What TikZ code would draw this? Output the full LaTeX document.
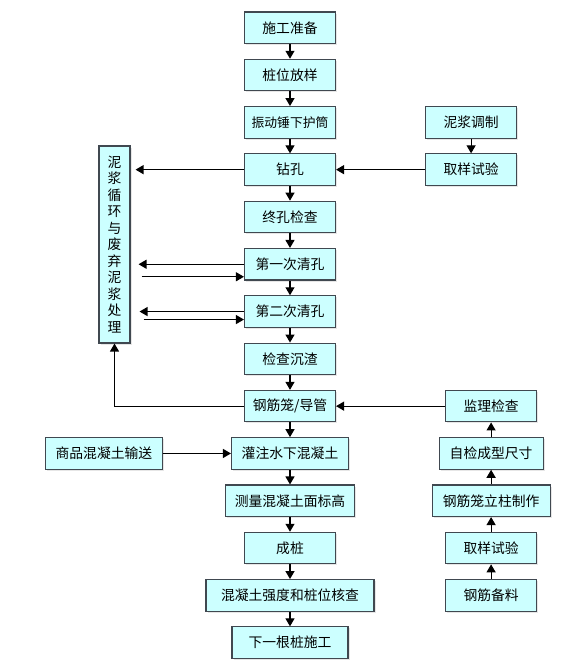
\documentclass[tikz,border=0pt]{standalone}
\usepackage{fontspec}
\newfontfamily\cjk{Noto Sans CJK SC}
\usepackage{tikz}
\usetikzlibrary{arrows.meta, positioning, shadows}
\tikzset{>/.tip={Triangle[length=8pt,width=9pt]}}
\definecolor{boxfill}{RGB}{204,255,255}
\definecolor{boxline}{RGB}{64,72,80}

\begin{document}
\begin{tikzpicture}[x=1pt, y=-1pt, node distance=14.7pt,
  stepbox/.style={draw=boxline, line width=1.1pt, fill=boxfill, minimum width=91pt,
    minimum height=31.5pt, inner sep=0pt, font=\cjk\fontsize{13.8}{16}\selectfont,
    drop shadow={shadow xshift=1.5pt, shadow yshift=-1.5pt, opacity=0.2}},
  flow/.style={->, line width=1.2pt, black}]
  \useasboundingbox (0,0) rectangle (586,670);
  \node(sg) [stepbox] at (290,27.75) {施工准备};
  \node(zw) [stepbox, below=of sg] {桩位放样};
  \node(hz) [stepbox, below=of zw, font=\cjk\fontsize{12.8}{15}\selectfont] {振动锤下护筒};
  \node(zk) [stepbox, below=of hz] {钻孔};
  \node(zkjc) [stepbox, below=of zk] {终孔检查};
  \node(qk1) [stepbox, below=of zkjc] {第一次清孔};
  \node(qk2) [stepbox, below=of qk1] {第二次清孔};
  \node(czjc) [stepbox, below=of qk2] {检查沉渣};
  \node(gjl) [stepbox, below=of czjc] {钢筋笼/导管};
  \node(gz) [stepbox, below=of gjl, minimum width=117pt] {灌注水下混凝土};
  \node(clbg) [stepbox, below=of gz, minimum width=129pt] {测量混凝土面标高};
  \node(cz) [stepbox, below=of clbg] {成桩};
  \node(hc) [stepbox, below=of cz, minimum width=168pt] {混凝土强度和桩位核查};
  \node(xyg) [stepbox, below=of hc, minimum width=116pt] {下一根桩施工};
  \node(qy1) [stepbox, right=89pt of zk] {取样试验};
  \node(njtz) [stepbox, above=of qy1] {泥浆调制};
  \node(nj) [stepbox, minimum width=31pt, minimum height=197pt, align=center,
    font=\cjk\fontsize{13.8}{16.5}\selectfont] at (114.5,244.5)
    {泥\\浆\\循\\环\\与\\废\\弃\\泥\\浆\\处\\理};
  \node(jl) [stepbox, right=109pt of gjl] {监理检查};
  \node(zjcc) [stepbox, below=of jl, minimum width=104pt] {自检成型尺寸};
  \node(lzzz) [stepbox, below=of zjcc, minimum width=118pt] {钢筋笼立柱制作};
  \node(qy2) [stepbox, below=of lzzz] {取样试验};
  \node(gjbl) [stepbox, below=of qy2] {钢筋备料};
  \node(sp) [stepbox, left=68pt of gz, minimum width=117pt] {商品混凝土输送};
  \draw[flow]
   (sg) edge (zw) (zw) edge (hz) (hz) edge (zk) (zk) edge (zkjc)
   (zkjc) edge (qk1) (qk1) edge (qk2) (qk2) edge (czjc) (czjc) edge (gjl)
   (gjl) edge (gz) (gz) edge (clbg) (clbg) edge (cz) (cz) edge (hc) (hc) edge (xyg)
   (njtz) edge (qy1) (qy1) edge (zk) (jl) edge (gjl) (sp) edge (gz)
   (gjbl) edge (qy2) (qy2) edge (lzzz) (lzzz) edge (zjcc) (zjcc) edge (jl);
  \draw[flow] (zk) -- ([xshift=5pt]zk.west -| nj.east);
  \draw[flow] (qk1.west) -- ([xshift=8pt]qk1.west -| nj.east);
  \draw[flow] ([xshift=11pt,yshift=-12.5pt]qk1.west -| nj.east) -- ([yshift=-12.5pt]qk1.west);
  \draw[flow] (qk2.west) -- ([xshift=9pt]qk2.west -| nj.east);
  \draw[flow] ([xshift=13pt,yshift=-8pt]qk2.west -| nj.east) -- ([yshift=-8pt]qk2.west);
  \draw[flow] (gjl.west) -| (nj.south);
\end{tikzpicture}
\end{document}
